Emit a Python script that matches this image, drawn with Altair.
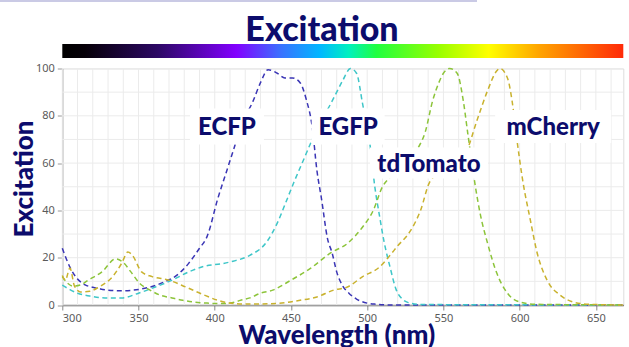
import altair as alt
import pandas as pd

# ---------------- data ----------------
ecfp_wl = [300, 305, 310, 315, 320, 325, 330, 337, 345, 352, 360, 367, 375, 383, 390, 395, 402, 408, 412,
           418, 425, 430, 435, 441, 446, 451, 456, 460, 464, 467, 470, 474, 477, 480, 484, 488, 493, 500, 506, 515, 668]
ecfp_ex = [24, 16, 11, 8.5, 7.5, 6.8, 6.3, 6, 6.2, 6.8, 8, 9.8, 12.5, 17.7, 24, 29, 45, 57, 65,
           77, 86, 94, 99.5, 98, 96, 96, 94, 87, 75, 57, 45, 28, 22, 14, 8, 5, 2.5, 0.8, 0.3, 0, 0]

egfp_wl = [300, 305, 310, 318, 328, 339, 350, 361, 372, 383, 394, 405, 412, 423, 434, 441, 447, 452, 458,
           464, 470, 476, 480, 484, 489, 493, 497, 502, 505, 508, 511, 515, 519, 523, 527, 535, 668]
egfp_ex = [8.4, 6.5, 5, 3.8, 3, 3, 5, 7.6, 10.5, 14, 16.5, 17.5, 18.5, 21, 26.6, 34.6, 44, 52, 61,
           70, 78, 85, 90, 95, 100, 98, 85, 67, 50, 38, 27, 16, 6.5, 2.5, 1, 0.2, 0]

tdtomato_wl = [300, 303, 307, 312, 317, 326, 335, 340, 345, 351, 357, 364, 372, 379, 387, 395, 403, 410, 417,
               423, 430, 438, 450, 463, 476, 487, 497, 504, 510, 515, 520, 527, 533, 538, 543, 547, 550, 554,
               559, 563, 566, 571, 574, 579, 585, 592, 600, 610, 668]
tdtomato_ex = [12, 9.5, 8, 8.5, 10.5, 14, 19.5, 18, 14, 9, 6.5, 4.2, 3, 2, 1.2, 0.8, 0.6, 0.8, 2,
               3, 5, 6.3, 10.5, 15.6, 22, 26, 33, 40, 50, 54, 57, 61, 66, 73, 86.5, 94, 98, 100,
               98, 86.5, 72.5, 50, 39, 26, 13.5, 5, 1.3, 0.3, 0]

mcherry_wl = [300, 302, 305, 308, 312, 318, 324, 333, 339, 343, 346, 352, 359, 370, 381, 392, 402, 410, 420,
              440, 456, 467, 478, 487, 497, 508, 515, 520, 528, 535, 541, 550, 558, 565, 572, 579, 585, 587,
              592, 595, 598, 602, 607, 611.5, 618, 626.5, 635, 645, 668]
mcherry_ex = [12.5, 10.5, 15.6, 8, 5.5, 5.8, 7.6, 12, 17.7, 22.4, 21, 14, 12, 10.5, 7.6, 4.5, 2, 0.8, 0.4,
              0.6, 2, 3.4, 6.3, 7.6, 12, 16, 21, 25, 31, 40, 52, 57, 61, 65, 78, 90.7, 99, 100,
              96, 86.5, 71, 52.7, 36, 22, 10.5, 4.2, 1.3, 0.3, 0]

series_names = ["ECFP", "EGFP", "tdTomato", "mCherry"]
series_colors = ["#3a35b5", "#3ec6c8", "#8cc43a", "#c9b22e"]

label_names = ["ECFP", "EGFP", "tdTomato", "mCherry"]
label_wl = [408, 487.5, 540.5, 622]
label_ex = [75.5, 75.5, 60, 75.5]
label_box_w = [74, 73, 118, 116]
label_box_h = [36, 36, 31, 33]

x_ticks = [300, 350, 400, 450, 500, 550, 600, 650]
y_ticks = [0, 20, 40, 60, 80, 100]
grid_x = list(range(300, 661, 10))
grid_y = list(range(0, 101, 10))

spectrum_stops = [(0.0, "#000000"), (0.04, "#060008"), (0.17, "#2c0864"), (0.31, "#8200ff"),
                  (0.39, "#3a72ff"), (0.46, "#00b8ff"), (0.51, "#00f0c0"), (0.56, "#20ff40"),
                  (0.67, "#98ff00"), (0.76, "#ffff00"), (0.85, "#ffa400"), (1.0, "#ff2a08")]

# ---------------- build tables ----------------
rows = []
for name, wl, ex in [("ECFP", ecfp_wl, ecfp_ex), ("EGFP", egfp_wl, egfp_ex),
                     ("tdTomato", tdtomato_wl, tdtomato_ex), ("mCherry", mcherry_wl, mcherry_ex)]:
    for w, e in zip(wl, ex):
        rows.append({"series": name, "wl": w, "ex": e})
df = pd.DataFrame(rows)

box_rows = []
for n, w, e, bw, bh in zip(label_names, label_wl, label_ex, label_box_w, label_box_h):
    h = bh / bw
    box_rows.append({"name": n, "wl": w, "ex": e,
                     "path": f"M-1,-{h:.4f}L1,-{h:.4f}L1,{h:.4f}L-1,{h:.4f}Z",
                     "size": bw * bw})
labels_df = pd.DataFrame(box_rows)

W, H = 561, 236.5
NAVY = "#0c0c6c"
x_scale = alt.Scale(domain=[300, 668], nice=False, zero=False)
y_scale = alt.Scale(domain=[0, 100], nice=False)

x_axis = alt.Axis(values=x_ticks, grid=False, title="Wavelength (nm)",
                  labelFont="Noto Sans", labelFontSize=11, labelColor="#5a5a5a",
                  labelPadding=2, tickSize=5, tickColor="#8a8a8a",
                  domainColor="#555555", domainWidth=1.5,
                  titleFont="Lato", titleFontSize=26, titleFontWeight=900, titleColor=NAVY,
                  titleX=274, titleY=38, titleBaseline="alphabetic", titleAlign="center")
y_axis = alt.Axis(values=y_ticks, grid=False, title="Excitation",
                  labelFont="Noto Sans", labelFontSize=11, labelColor="#5a5a5a",
                  labelPadding=3, tickSize=5, tickColor="#9a9a9a",
                  domainColor="#9a9a9a", domainWidth=1,
                  titleFont="Lato", titleFontSize=26, titleFontWeight=900, titleColor=NAVY,
                  titleX=-38, titleY=110, titleBaseline="middle", titleAlign="center",
                  titleAngle=270)

grid_v = alt.Chart(pd.DataFrame({"wl": grid_x})).mark_rule(color="#ebebeb", strokeWidth=1).encode(
    x=alt.X("wl:Q", scale=x_scale, axis=x_axis))
grid_h = alt.Chart(pd.DataFrame({"ex": grid_y})).mark_rule(color="#ebebeb", strokeWidth=1).encode(
    y=alt.Y("ex:Q", scale=y_scale, axis=y_axis))

lines = alt.Chart(df).mark_line(strokeWidth=1.5, strokeDash=[5, 3.5], interpolate="monotone").encode(
    x=alt.X("wl:Q", scale=x_scale, axis=x_axis),
    y=alt.Y("ex:Q", scale=y_scale, axis=y_axis),
    color=alt.Color("series:N", scale=alt.Scale(domain=series_names, range=series_colors), legend=None),
    detail="series:N",
)

boxes = alt.Chart(labels_df).mark_point(filled=True, fill="white", opacity=1, strokeWidth=0).encode(
    x=alt.X("wl:Q", scale=x_scale, axis=x_axis),
    y=alt.Y("ex:Q", scale=y_scale, axis=y_axis),
    shape=alt.Shape("path:N", scale=None),
    size=alt.Size("size:Q", scale=None),
)

texts = alt.Chart(labels_df).mark_text(font="Lato", fontSize=24, fontWeight=900, color=NAVY,
                                        align="center", baseline="middle", dy=1.5).encode(
    x=alt.X("wl:Q", scale=x_scale, axis=x_axis),
    y=alt.Y("ex:Q", scale=y_scale, axis=y_axis),
    text="name:N",
)

bar = alt.Chart(pd.DataFrame({"wl": [300], "b": [668]})).mark_rect(
    color=alt.Gradient(gradient="linear", x1=0, x2=1, y1=0, y2=0,
                       stops=[alt.GradientStop(offset=o, color=c) for o, c in spectrum_stops])
).encode(
    x=alt.X("wl:Q", scale=x_scale, axis=x_axis), x2="b:Q",
    y=alt.value(-24.5), y2=alt.value(-10.5),
)

title = alt.Chart(pd.DataFrame({"t": ["Excitation"]})).mark_text(
    font="Lato", fontSize=34, fontWeight=900, color=NAVY, align="center", baseline="alphabetic"
).encode(text="t:N", x=alt.value(259.7), y=alt.value(-27.5))

top_line = alt.Chart(pd.DataFrame({"t": [0]})).mark_rule(color="#b8b8dc", strokeWidth=1.5).encode(
    x=alt.value(-62.3), x2=alt.value(414.7), y=alt.value(-67.5))

chart = alt.layer(grid_v, grid_h, lines, boxes, texts, bar, title, top_line).properties(
    width=W, height=H,
    autosize=alt.AutoSizeParams(type="none"),
    padding={"left": 62.3, "top": 68.5, "right": 629 - 62.3 - W, "bottom": 347 - 68.5 - H},
).configure_view(stroke=None).configure(background="white")

chart.save("out.html", embed_options={"renderer": "svg", "actions": False})
